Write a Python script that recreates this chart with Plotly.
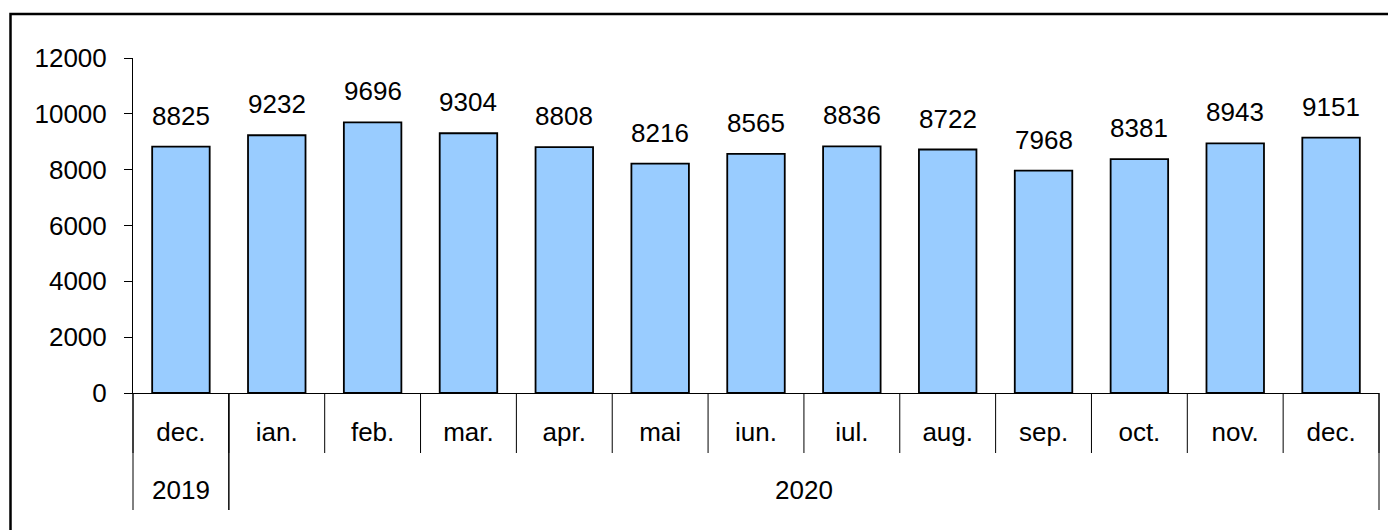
import plotly.graph_objects as go

months = ['dec.', 'ian.', 'feb.', 'mar.', 'apr.', 'mai', 'iun.', 'iul.', 'aug.', 'sep.', 'oct.', 'nov.', 'dec.']
years = ['2019', '2020']
year_counts = [1, 12]
values = [8825, 9232, 9696, 9304, 8808, 8216, 8565, 8836, 8722, 7968, 8381, 8943, 9151]
y_ticks = [0, 2000, 4000, 6000, 8000, 10000, 12000]

FONT = 'Liberation Sans, Arial, sans-serif'
W, H = 1388, 530
L, R, T, B = 133, 9, 58, 137
PW, PH = W - L - R, H - T - B

def py(pix):
    # pixel row -> paper y
    return (H - B - pix) / PH

def px(pix):
    return (pix - L) / PW

n_cat = len(values)
xs = list(range(n_cat))

def bound(b):
    # category boundary (left edge of category b) in paper x
    return b / n_cat

fig = go.Figure()
fig.add_trace(go.Bar(x=xs, y=values, width=0.6,
                     marker=dict(color='#99CCFF', line=dict(color='black', width=1.8)),
                     hoverinfo='skip'))

# value labels above bars
for i, v in enumerate(values):
    fig.add_annotation(x=i, y=v, text=str(v), showarrow=False, yanchor='bottom',
                       yshift=14, font=dict(size=26, color='black', family=FONT))

shapes = []
# month separators
for i in range(n_cat + 1):
    shapes.append(dict(type='line', xref='paper', yref='paper', x0=bound(i), x1=bound(i),
                       y0=0, y1=py(453), line=dict(color='black', width=1)))
# year separators + year labels
start = 0
for yr, n in zip(years, year_counts):
    for b in (start, start + n):
        shapes.append(dict(type='line', xref='paper', yref='paper', x0=bound(b), x1=bound(b),
                           y0=0, y1=py(510), line=dict(color='black', width=1)))
    fig.add_annotation(x=start + (n - 1) / 2, y=py(490), xref='x', yref='paper', text=yr,
                       showarrow=False, yanchor='middle',
                       font=dict(size=26, color='black', family=FONT))
    start += n
# outer frame (cut off at right and bottom)
shapes.append(dict(type='rect', xref='paper', yref='paper', x0=px(10.5), x1=px(1400),
                   y0=py(545), y1=py(14), line=dict(color='black', width=2.5)))

fig.update_layout(
    width=W, height=H,
    margin=dict(l=L, r=R, t=T, b=B),
    plot_bgcolor='white', paper_bgcolor='white',
    showlegend=False, shapes=shapes,
    font=dict(family=FONT, size=26, color='black'),
    bargap=0.4,
)
fig.update_xaxes(range=[-0.5, n_cat - 0.5], tickvals=xs, ticktext=months,
                 ticks='', showline=True, linecolor='black', linewidth=1,
                 showgrid=False, zeroline=False, ticklabelstandoff=16,
                 tickfont=dict(size=26, family=FONT, color='black'))
fig.update_yaxes(range=[0, 12000], tickvals=y_ticks, ticktext=[str(t) for t in y_ticks],
                 ticks='outside', ticklen=8,
                 tickcolor='black', tickwidth=1, showline=True, linecolor='black',
                 linewidth=1, showgrid=False, zeroline=False, ticklabelstandoff=12,
                 tickfont=dict(size=26, family=FONT, color='black'))

fig.write_html('out.html', config={'displayModeBar': False},
               post_script="document.body.style.margin='0';")
